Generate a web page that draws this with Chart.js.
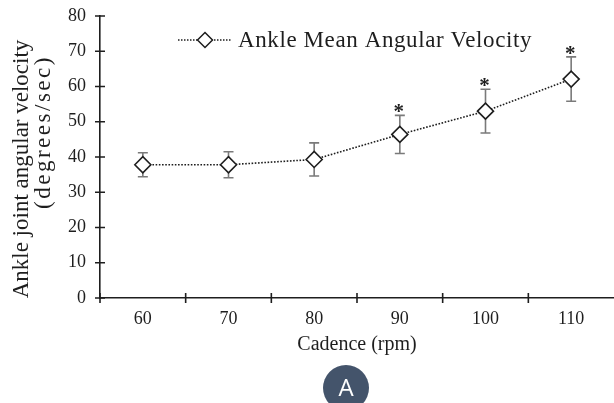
<!DOCTYPE html>
<html>
<head>
<meta charset="utf-8">
<script src="https://cdn.jsdelivr.net/npm/chart.js@4/dist/chart.umd.min.js"></script>
<style>
    html, body { margin: 0; padding: 0; background: #fff; }
    #wrap { position: relative; width: 614px; height: 403px; overflow: hidden; }
    #badge {
        position: absolute; left: 323px; top: 365px; width: 46px; height: 46px;
        border-radius: 50%; background: #44546b; color: #fff;
        font: 24px 'Open Sans', sans-serif; text-align: center; line-height: 44px;
    }
</style>
</head>
<body>
<div id="wrap">
    <canvas id="chart" width="614" height="403"></canvas>
    <div id="badge">A</div>
</div>
<script>
// data
const cadence = ['60', '70', '80', '90', '100', '110'];
const meanVelocity = [37.8, 37.8, 39.3, 46.4, 53.0, 62.1];
const sdVelocity = [3.4, 3.7, 4.7, 5.4, 6.2, 6.3];
const significant = [false, false, false, true, true, true];
const seriesName = 'Ankle Mean Angular Velocity';
const yTitle = ['Ankle joint angular velocity', '(degrees/sec)'];

const SERIF = "'Liberation Serif', 'Times New Roman', serif";
const INK = '#1e1e1e';

// error bars + significance stars
const errorBars = {
    id: 'errorBars',
    beforeDatasetsDraw(chart) {
        const { ctx, scales: { x, y } } = chart;
        ctx.save();
        ctx.strokeStyle = '#7a7a7a';
        ctx.lineWidth = 1.6;
        meanVelocity.forEach((m, i) => {
            const px = x.getPixelForValue(i);
            const top = y.getPixelForValue(m + sdVelocity[i]);
            const bot = y.getPixelForValue(m - sdVelocity[i]);
            ctx.beginPath();
            ctx.moveTo(px, top); ctx.lineTo(px, bot);
            ctx.moveTo(px - 5, top); ctx.lineTo(px + 5, top);
            ctx.moveTo(px - 5, bot); ctx.lineTo(px + 5, bot);
            ctx.stroke();
        });
        ctx.fillStyle = INK;
        ctx.font = 'bold 21px ' + SERIF;
        ctx.letterSpacing = '0px';
        ctx.textAlign = 'center';
        ctx.textBaseline = 'alphabetic';
        meanVelocity.forEach((m, i) => {
            if (!significant[i]) return;
            const px = x.getPixelForValue(i);
            const top = y.getPixelForValue(m + sdVelocity[i]);
            ctx.fillText('*', px - 1, top + 3);
        });
        ctx.restore();
    }
};

// tick marks crossing both axes, y axis title
const axisExtras = {
    id: 'axisExtras',
    afterDraw(chart) {
        const { ctx, chartArea, scales: { x, y } } = chart;
        ctx.save();
        ctx.strokeStyle = INK;
        ctx.lineWidth = 1.6;
        ctx.beginPath();
        y.ticks.forEach(t => {
            const py = y.getPixelForValue(t.value);
            ctx.moveTo(chartArea.left - 5, py);
            ctx.lineTo(chartArea.left + 5, py);
        });
        const step = x.getPixelForValue(1) - x.getPixelForValue(0);
        for (let i = 0; i < cadence.length; i++) {
            const px = x.getPixelForValue(i) - step / 2;
            ctx.moveTo(px, chartArea.bottom - 5);
            ctx.lineTo(px, chartArea.bottom + 5);
        }
        ctx.stroke();

        // two-line rotated title, second line sits higher as in the source
        const mid = (chartArea.top + chartArea.bottom) / 2;
        ctx.fillStyle = INK;
        ctx.font = '23px ' + SERIF;
        ctx.textAlign = 'center';
        ctx.textBaseline = 'middle';
        ctx.translate(chartArea.left - 78, mid + 12);
        ctx.rotate(-Math.PI / 2);
        ctx.letterSpacing = '0px';
        ctx.fillText(yTitle[0], 0, 0);
        ctx.letterSpacing = '2.5px';
        ctx.fillText(yTitle[1], 37, 22);
        ctx.letterSpacing = '0px';
        ctx.restore();
    }
};

// legend: dotted line with a diamond, then the label
const lineLegend = {
    id: 'lineLegend',
    afterDraw(chart) {
        const { ctx, chartArea } = chart;
        const x0 = chartArea.left + 78, yMid = chartArea.top + 24;
        ctx.save();
        ctx.strokeStyle = INK;
        ctx.lineWidth = 1.5;
        ctx.setLineDash([1.5, 1.5]);
        ctx.beginPath();
        ctx.moveTo(x0, yMid); ctx.lineTo(x0 + 54, yMid);
        ctx.stroke();
        ctx.setLineDash([]);
        const cx = x0 + 27, r = 7.5;
        ctx.fillStyle = '#fff';
        ctx.beginPath();
        ctx.moveTo(cx, yMid - r); ctx.lineTo(cx + r, yMid);
        ctx.lineTo(cx, yMid + r); ctx.lineTo(cx - r, yMid);
        ctx.closePath();
        ctx.fill(); ctx.stroke();
        ctx.fillStyle = INK;
        ctx.font = '23px ' + SERIF;
        ctx.letterSpacing = '0.6px';
        ctx.textBaseline = 'middle';
        ctx.fillText(seriesName, x0 + 60, yMid + 1);
        ctx.letterSpacing = '0px';
        ctx.restore();
    }
};

new Chart(document.getElementById('chart').getContext('2d'), {
    type: 'line',
    data: {
        labels: cadence,
        datasets: [{
            label: seriesName,
            data: meanVelocity,
            borderColor: INK,
            borderWidth: 1.6,
            borderDash: [1.6, 1.6],
            pointStyle: 'rectRot',
            pointRadius: 8,
            pointBorderWidth: 1.6,
            pointBackgroundColor: '#fff',
            pointBorderColor: INK,
            tension: 0,
        }],
    },
    options: {
        responsive: false,
        animation: false,
        layout: { autoPadding: false, padding: { top: 16, right: 0, bottom: 0, left: 0 } },
        plugins: { legend: { display: false }, tooltip: { enabled: false } },
        scales: {
            x: {
                offset: true,
                afterFit: (s) => { s.height = 105; s.paddingLeft = 0; s.paddingRight = 0; },
                grid: { display: true, drawOnChartArea: false, drawTicks: false, offset: true },
                border: { color: INK, width: 1.6 },
                ticks: { color: INK, padding: 10, font: { family: SERIF, size: 18, lineHeight: 1.2 } },
                title: { display: true, text: 'Cadence (rpm)', color: INK, padding: { top: 4, bottom: 46 },
                    font: { family: SERIF, size: 20, lineHeight: 1.2 } },
            },
            y: {
                min: 0, max: 80,
                afterFit: (s) => { s.width = 100; s.paddingTop = 0; s.paddingBottom = 0; },
                grid: { display: true, drawOnChartArea: false, drawTicks: false },
                border: { color: INK, width: 1.6 },
                ticks: { stepSize: 10, color: INK, padding: 14, font: { family: SERIF, size: 18 } },
            },
        },
    },
    plugins: [errorBars, axisExtras, lineLegend],
});
</script>
</body>
</html>
